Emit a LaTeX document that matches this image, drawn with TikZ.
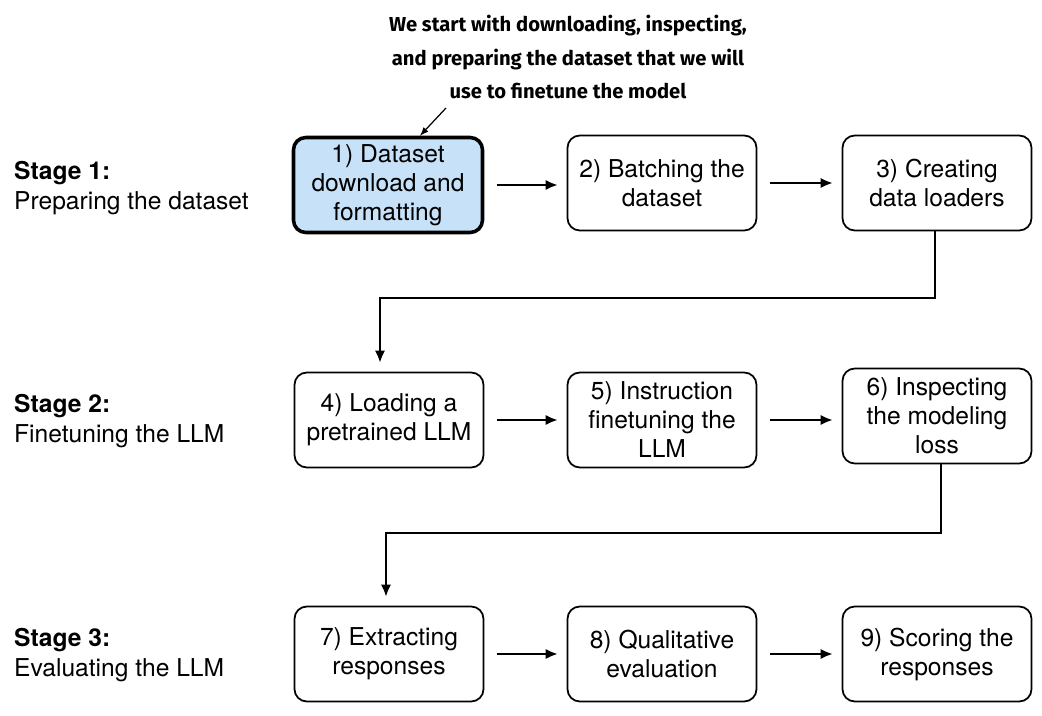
\documentclass[tikz,border=0pt]{standalone}
\usepackage{fontspec}
\usetikzlibrary{arrows.meta}
\setmainfont{TeX Gyre Heros}
\newfontfamily\notefont{Fira Sans}
\definecolor{hl}{HTML}{C6E1F8}
\begin{document}
\begin{tikzpicture}[x=0.02cm,y=-0.02cm,
  box/.style={draw,rounded corners=7pt,line width=1pt,minimum width=189*0.02cm,minimum height=95*0.02cm,align=center,font=\fontsize{14}{16.5}\selectfont,inner sep=2pt},
  arr/.style={-{Latex[length=7pt,width=6pt]},line width=1.4pt},
  stage/.style={anchor=west,align=left,font=\fontsize{14}{17}\selectfont}]
\useasboundingbox (0,0) rectangle (1042,716);
\node[box,fill=hl,line width=2pt] (b1) at (388,185) {1) Dataset\\download and\\formatting};
\node[box] (b2) at (662,183) {2) Batching the\\dataset};
\node[box] (b3) at (937,183) {3) Creating\\data loaders};
\node[box] (b4) at (389,420) {4) Loading a\\pretrained LLM};
\node[box] (b5) at (662,420) {5) Instruction\\finetuning the\\LLM};
\node[box] (b6) at (937,416) {6) Inspecting\\the modeling\\loss};
\node[box] (b7) at (389,654) {7) Extracting\\responses};
\node[box] (b8) at (662,654) {8) Qualitative\\evaluation};
\node[box] (b9) at (937,654) {9) Scoring the\\responses};
\draw[arr] ([xshift=7]b1.east) -- ([xshift=-5]b2.west|-b1.east);
\draw[arr] ([xshift=7]b2.east) -- ([xshift=-5]b3.west);
\draw[arr] ([xshift=7]b4.east) -- ([xshift=-5]b5.west);
\draw[arr] ([xshift=7]b5.east) -- ([xshift=-5]b6.west|-b5.east);
\draw[arr] ([xshift=7]b7.east) -- ([xshift=-5]b8.west);
\draw[arr] ([xshift=7]b8.east) -- ([xshift=-5]b9.west);
\coordinate (k1) at (935,298);
\coordinate (k2) at (380,298);
\draw[arr] (b3.south-|k1) -- (k1) -- (k2) -- ([yshift=5]b4.north-|k2);
\coordinate (k3) at (941,533);
\coordinate (k4) at (386,533);
\draw[arr] (b6.south-|k3) -- (k3) -- (k4) -- ([yshift=5]b7.north-|k4);
\node[stage] (s1) at (8,188) {\textbf{Stage 1:}\\Preparing the dataset};
\node[stage] (s2) at (8,421) {\textbf{Stage 2:}\\Finetuning the LLM};
\node[stage] (s3) at (8,655) {\textbf{Stage 3:}\\Evaluating the LLM};
\node[align=center,font=\notefont\bfseries\fontsize{11.5}{19}\selectfont] (note) at (568,57) {We start with downloading, inspecting,\\and preparing the dataset that we will\\use to finetune the model};
\coordinate (na) at (446,108);
\draw[-latex,line width=0.7pt] (na) -- (b1.north-|420,0);
\end{tikzpicture}
\end{document}
